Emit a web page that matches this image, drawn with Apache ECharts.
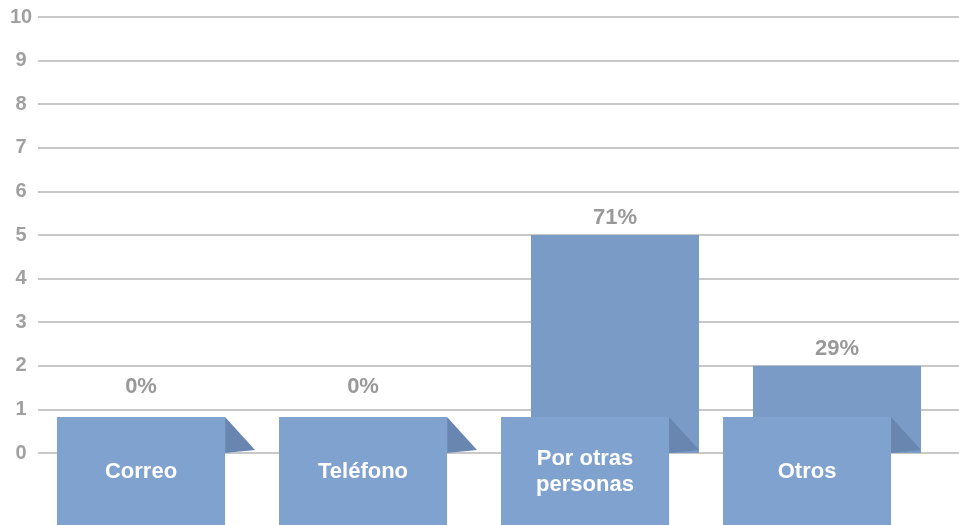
<!DOCTYPE html>
<html>
<head>
<meta charset="utf-8">
<script src="https://cdn.jsdelivr.net/npm/echarts@6/dist/echarts.min.js"></script>
<style>
  html, body { margin: 0; padding: 0; background: #ffffff; }
  #chart { width: 959px; height: 525px; }
</style>
</head>
<body>
<div id="chart"></div>
<script>
// Response channels and their counts
const categories = ['Correo', 'Teléfono', 'Por otras\npersonas', 'Otros'];
const counts = [0, 0, 5, 2];
const yMin = 0;
const yMax = 10;
const yStep = 1;

const total = counts.reduce((a, b) => a + b, 0);
const percentLabels = counts.map(v => Math.round(v / total * 100) + '%');

const BAR = '#7b9bc7';
const BOX = '#80a2cf';
const FOLD = '#6886b0';
const GRAY = '#a0a0a0';
const FONT = 'Liberation Sans, Arial, sans-serif';

const chart = echarts.init(document.getElementById('chart'));

chart.setOption({
  animation: false,
  grid: [
    // wide grid carrying the value scale and its gridlines
    { left: 38, right: 0, top: 17, bottom: 72 },
    // grid where the categories sit
    { left: 60, right: 11, top: 17, bottom: 72 }
  ],
  xAxis: [
    { gridIndex: 0, type: 'value', min: 0, max: 1, show: false },
    { gridIndex: 1, type: 'category', data: categories, show: false }
  ],
  yAxis: [
    {
      gridIndex: 0, type: 'value', min: yMin, max: yMax, interval: yStep,
      axisLine: { show: false }, axisTick: { show: false },
      axisLabel: {
        color: GRAY, fontSize: 20, fontWeight: 'bold', fontFamily: FONT,
        align: 'center', margin: 17
      },
      splitLine: { show: true, lineStyle: { color: '#c8c8c8', width: 2 } }
    },
    {
      gridIndex: 1, type: 'value', min: yMin, max: yMax, interval: yStep,
      show: false, splitLine: { show: false }
    }
  ],
  series: [{
    type: 'custom',
    xAxisIndex: 1,
    yAxisIndex: 1,
    clip: false,
    data: counts.map((v, i) => [i, v]),
    renderItem(params, api) {
      const idx = api.value(0);
      const v = api.value(1);
      const base = api.coord([idx, 0]);
      const top = api.coord([idx, v]);
      const band = api.size([1, 0])[0];
      const bw = band * 0.757;
      const shift = band * 0.135;
      const boxTop = base[1] - 36;
      const x0 = base[0] - bw / 2;
      const boxX = x0 - shift;
      const h = api.getHeight();
      const children = [];
      if (v > 0) {
        children.push({
          type: 'rect',
          shape: { x: x0, y: top[1], width: bw, height: base[1] - top[1] },
          style: { fill: BAR }
        });
      }
      // folded corner behind the label card
      children.push({
        type: 'polygon',
        shape: { points: [[x0 + bw - shift, boxTop], [x0 + bw - shift, base[1]], [x0 + bw, base[1] - 3]] },
        style: { fill: FOLD }
      });
      // label card
      children.push({
        type: 'rect',
        shape: { x: boxX, y: boxTop, width: bw, height: h - boxTop },
        style: { fill: BOX }
      });
      children.push({
        type: 'text',
        style: {
          text: categories[idx],
          x: boxX + bw / 2, y: boxTop + 55,
          align: 'center', verticalAlign: 'middle',
          fill: '#ffffff', fontSize: 22, fontWeight: 'bold', fontFamily: FONT,
          lineHeight: 26
        }
      });
      // percentage label
      children.push({
        type: 'text',
        style: {
          text: percentLabels[idx],
          x: v > 0 ? base[0] : boxX + bw / 2,
          y: v > 0 ? top[1] - 17 : boxTop - 30,
          align: 'center', verticalAlign: 'middle',
          fill: '#999999', fontSize: 22, fontWeight: 'bold', fontFamily: FONT
        }
      });
      return { type: 'group', children };
    }
  }]
});
</script>
</body>
</html>
